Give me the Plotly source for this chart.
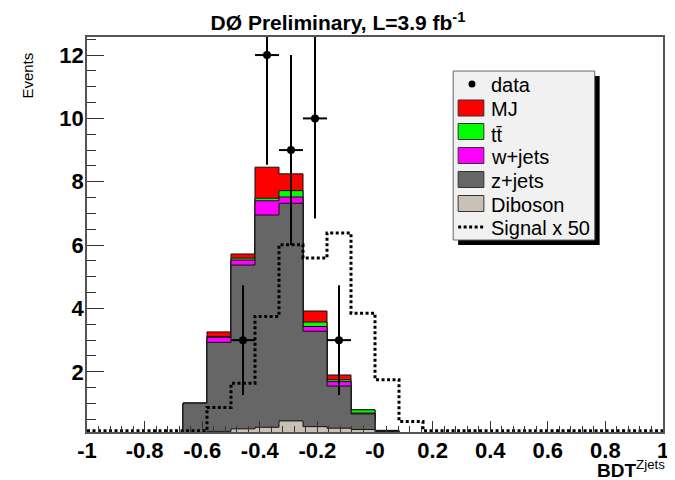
import numpy as np
import plotly.graph_objects as go

# ---------------- data (24 bins from -1 to 1) ----------------
bin_edges = np.linspace(-1.0, 1.0, 25)

diboson = [0, 0, 0, 0, 0.05, 0.12, 0.20, 0.25, 0.45, 0.27, 0.22, 0.18, 0.03, 0, 0, 0, 0, 0, 0, 0, 0, 0, 0, 0]
zjets   = [0, 0, 0, 0, 0.96, 2.81, 5.17, 6.70, 6.87, 3.01, 1.33, 0.49, 0.09, 0, 0, 0, 0, 0, 0, 0, 0, 0, 0, 0]
wjets   = [0, 0, 0, 0, 0.00, 0.16, 0.16, 0.45, 0.20, 0.15, 0.14, 0.03, 0.00, 0, 0, 0, 0, 0, 0, 0, 0, 0, 0, 0]
ttbar   = [0, 0, 0, 0, 0.00, 0.02, 0.06, 0.08, 0.20, 0.14, 0.06, 0.10, 0.03, 0, 0, 0, 0, 0, 0, 0, 0, 0, 0, 0]
mj      = [0, 0, 0, 0, 0.00, 0.15, 0.13, 0.98, 0.53, 0.35, 0.15, 0.00, 0.00, 0, 0, 0, 0, 0, 0, 0, 0, 0, 0, 0]
signal_x50 = [0, 0, 0, 0, 0, 0.87, 1.64, 3.75, 6.01, 5.59, 6.38, 3.85, 1.75, 0.43, 0, 0, 0, 0, 0, 0, 0, 0, 0, 0]
data_counts = [0, 0, 0, 0, 0, 0, 3, 12, 9, 10, 3, 0, 0, 0, 0, 0, 0, 0, 0, 0, 0, 0, 0, 0]

x_tick_vals = [-1, -0.8, -0.6, -0.4, -0.2, 0, 0.2, 0.4, 0.6, 0.8, 1]
x_tick_text = ["-1", "-0.8", "-0.6", "-0.4", "-0.2", "-0", "0.2", "0.4", "0.6", "0.8", "1"]
y_tick_vals = [2, 4, 6, 8, 10, 12]
y_tick_text = ["2", "4", "6", "8", "10", "12"]

legend_labels = ["data", "MJ", "tt\u0304", "w+jets", "z+jets", "Diboson", "Signal x 50"]
colors = {"MJ": "#ff0000", "tt": "#00ff00", "w+jets": "#ff00ff",
          "z+jets": "#666666", "Diboson": "#c9c0b6"}

Y_MIN, Y_MAX = 0.1, 12.57

# ---------------- figure geometry ----------------
# The page puts the plot 8 px in from the top-left corner (default body margin),
# so the figure is made 8 px smaller and all screen positions are shifted.
OFF = 8
W, H = 675 - OFF, 480 - OFF
PL, PR, PT, PB = 87, 669, 37, 432  # plot area in screen pixels

def px(x):
    return (x - PL) / (PR - PL)

def py(y):
    return (PB - y) / (PB - PT)

edges = list(bin_edges)
centers = 0.5 * (bin_edges[:-1] + bin_edges[1:])
half_w = 0.5 * (bin_edges[1] - bin_edges[0])

def step_y(vals):
    v = list(vals)
    return v + [v[-1]]

c_dib = np.array(diboson)
c_z = c_dib + np.array(zjets)
c_w = c_z + np.array(wjets)
c_tt = c_w + np.array(ttbar)
c_mj = c_tt + np.array(mj)

fig = go.Figure()
for cum, col in [(c_mj, colors["MJ"]), (c_tt, colors["tt"]), (c_w, colors["w+jets"]),
                 (c_z, colors["z+jets"]), (c_dib, colors["Diboson"])]:
    fig.add_trace(go.Scatter(x=edges, y=step_y(cum), mode="lines", line_shape="hv",
                             line=dict(color="#111111", width=1), fill="tozeroy",
                             fillcolor=col, showlegend=False, hoverinfo="skip"))

# signal x 50 (dotted step), drawn at the axis floor where empty
sig_draw = np.maximum(np.array(signal_x50, dtype=float), Y_MIN + 0.04)
fig.add_trace(go.Scatter(x=edges, y=step_y(sig_draw), mode="lines", line_shape="hv",
                         line=dict(color="black", width=3, dash="3px,2.5px"),
                         showlegend=False, hoverinfo="skip"))

# data points
d = np.array(data_counts, dtype=float)
mask = d > 0
fig.add_trace(go.Scatter(x=centers[mask], y=d[mask], mode="markers",
                         marker=dict(color="black", size=8),
                         error_y=dict(type="data", array=np.sqrt(d[mask]), color="black",
                                      thickness=2, width=0),
                         error_x=dict(type="constant", value=half_w, color="black",
                                      thickness=2, width=0),
                         showlegend=False, hoverinfo="skip"))

axis_font = dict(family="Liberation Sans, Arial, sans-serif", size=22, color="black", weight="bold")
fig.update_xaxes(range=[-1, 1], tickmode="array", tickvals=x_tick_vals, ticktext=x_tick_text,
                 ticks="inside", ticklen=11, tickwidth=1, tickcolor="#333",
                 showline=True, mirror=True, linecolor="#555", linewidth=1.5,
                 showgrid=False, zeroline=False, tickfont=axis_font, ticklabelstandoff=-2,
                 minor=dict(tickmode="linear", tick0=-1, dtick=0.04, ticks="inside",
                            ticklen=6, tickcolor="#333", showgrid=False))
fig.update_yaxes(range=[Y_MIN, Y_MAX], tickmode="array", tickvals=y_tick_vals, ticktext=y_tick_text,
                 ticks="inside", ticklen=17, tickwidth=1, tickcolor="#333",
                 showline=True, mirror=True, linecolor="#555", linewidth=1.5,
                 showgrid=False, zeroline=False, tickfont=axis_font, ticklabelstandoff=-3,
                 minor=dict(tickmode="linear", tick0=0, dtick=0.5, ticks="inside",
                            ticklen=9, tickcolor="#333", showgrid=False))

# ---------------- legend (ROOT style box with shadow) ----------------
shapes = []
shapes.append(dict(type="rect", xref="paper", yref="paper", x0=px(462), x1=px(605), y0=py(245), y1=py(76),
                   fillcolor="black", line=dict(width=0), layer="above"))
shapes.append(dict(type="rect", xref="paper", yref="paper", x0=px(457), x1=px(600), y0=py(240), y1=py(71),
                   fillcolor="#f1f1f1", line=dict(color="#666", width=1), layer="above"))
entry_y = [84, 108, 131.5, 155.5, 179.5, 203.5, 227]
sw_x0, sw_x1 = 462, 488
swatch_cols = [None, colors["MJ"], colors["tt"], colors["w+jets"], colors["z+jets"], colors["Diboson"], None]
for i, (lab, ey) in enumerate(zip(legend_labels, entry_y)):
    if i == 0:
        shapes.append(dict(type="circle", xref="paper", yref="paper",
                           x0=px(472.5), x1=px(479.5), y0=py(ey + 3.5), y1=py(ey - 3.5),
                           fillcolor="black", line=dict(width=0), layer="above"))
    elif i == 6:
        shapes.append(dict(type="line", xref="paper", yref="paper",
                           x0=px(sw_x0), x1=px(sw_x1), y0=py(ey), y1=py(ey),
                           line=dict(color="black", width=3, dash="3px,2.5px"), layer="above"))
    else:
        shapes.append(dict(type="rect", xref="paper", yref="paper",
                           x0=px(sw_x0), x1=px(sw_x1), y0=py(ey + 8), y1=py(ey - 8),
                           fillcolor=swatch_cols[i], line=dict(color="#333", width=1), layer="above"))

annotations = []
leg_font = dict(family="Liberation Sans, Arial, sans-serif", size=20, color="black")
for i, (lab, ey) in enumerate(zip(legend_labels, entry_y)):
    yy = ey + (3 if i == 2 else 1)
    annotations.append(dict(xref="paper", yref="paper", x=px(493), y=py(yy), text=lab,
                            xanchor="left", yanchor="middle", showarrow=False, font=leg_font))

# axis titles
annotations.append(dict(xref="paper", yref="paper", x=px(673), y=py(469), xanchor="right", yanchor="middle",
                        text="<b>BDT</b><sup>Zjets</sup>", showarrow=False,
                        font=dict(family="Liberation Sans, Arial, sans-serif", size=19, color="black")))
annotations.append(dict(xref="paper", yref="paper", x=px(27), y=py(51), xanchor="center", yanchor="top",
                        text="Events", textangle=-90, showarrow=False,
                        font=dict(family="Liberation Sans, Arial, sans-serif", size=15, color="black")))

fig.update_layout(
    width=W, height=H,
    margin=dict(l=PL - OFF, r=675 - PR, t=PT - OFF, b=480 - PB, pad=0),
    paper_bgcolor="white", plot_bgcolor="white",
    title=dict(text="<b>DØ Preliminary, L=3.9 fb<sup>-1</sup></b>", x=(338 - OFF) / W, xref="container",
               xanchor="center", y=1 - (23 - OFF) / H, yref="container", yanchor="middle",
               font=dict(family="Liberation Sans, Arial, sans-serif", size=21, color="black")),
    shapes=shapes, annotations=annotations, showlegend=False,
)

fig.write_html("out.html")
